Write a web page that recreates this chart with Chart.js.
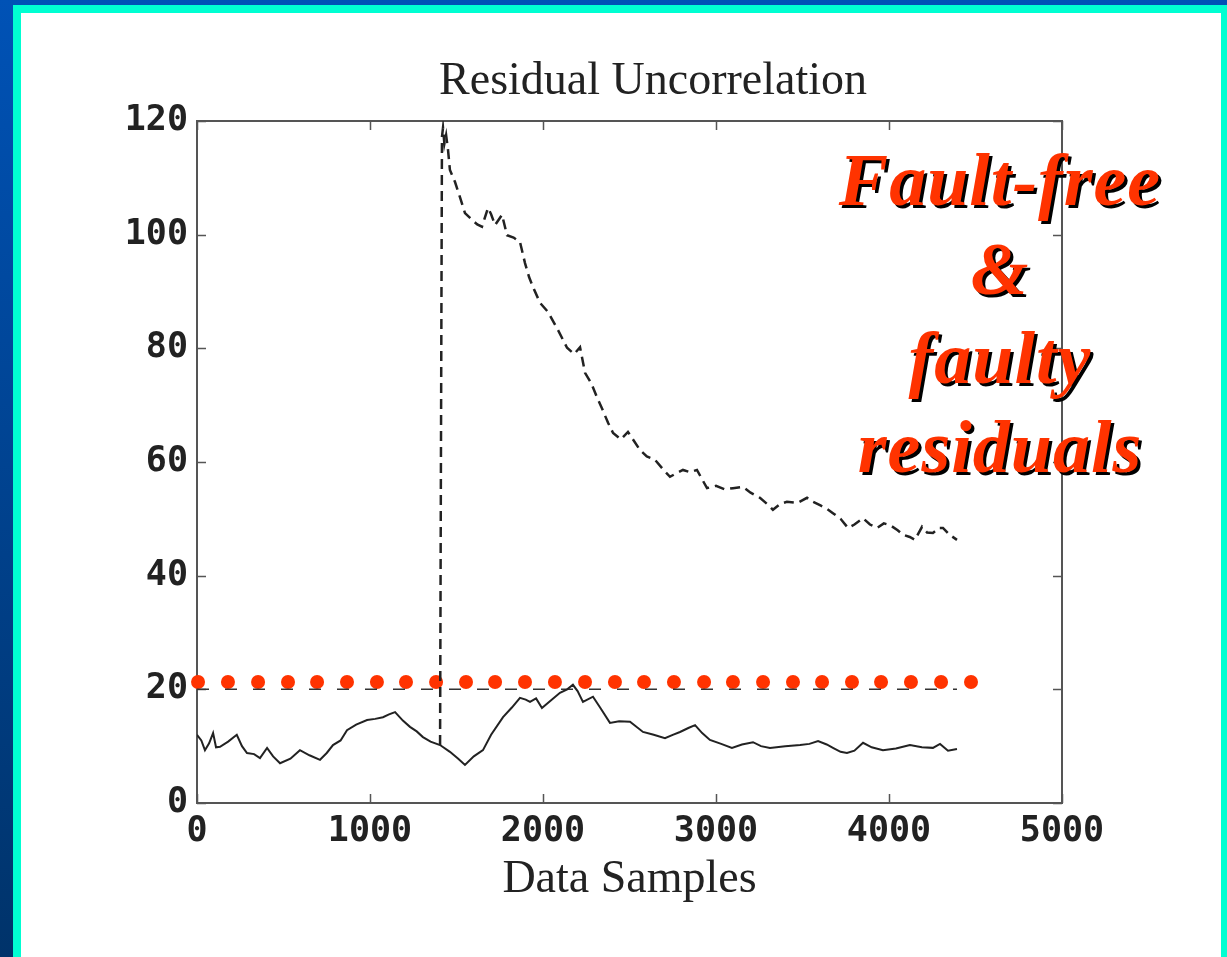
<!DOCTYPE html>
<html lang="en">
<head>
    <meta charset="UTF-8">
    <title>Residual Uncorrelation</title>
    <script src="https://cdn.jsdelivr.net/npm/chart.js"></script>
    <style>
        body {
            margin: 0;
            width: 1227px;
            height: 957px;
            overflow: hidden;
            background: linear-gradient(to bottom, #0052b6, #00336a);  /* slide background */
        }

        #frame {
            position: absolute;
            left: 13px;
            top: 5px;
            width: 1214px;
            height: 952px;
            box-sizing: border-box;
            border-left: 8px solid #00ffd2;
            border-top: 8px solid #00ffd2;
            border-right: 6px solid #00ffd2;
            background: #fff;
            overflow: hidden;
        }

        #myChart {
            position: absolute;
            left: 0;
            top: 0;
        }

        #title {
            position: absolute;
            left: 332px;
            width: 600px;
            top: 43px;
            text-align: center;
            white-space: nowrap;
            font-family: 'Liberation Serif', serif;
            font-size: 46px;
            line-height: 1;
            color: #222;
        }

        #note {
            position: absolute;
            left: 779px;
            top: 123px;
            width: 400px;
            text-align: center;
            font-family: 'Liberation Serif', serif;
            font-weight: bold;
            font-style: italic;
            font-size: 74px;
            line-height: 89px;
            letter-spacing: 1px;
            color: #ff3300;
            text-shadow: 3px 3px 0 #000;
        }
    </style>
</head>
<body>
    <div id="frame">
        <canvas id="myChart" width="1200" height="944"></canvas>
        <div id="title">Residual Uncorrelation</div>
        <div id="note">Fault-free<br>&amp;<br>faulty<br>residuals</div>
    </div>

    <script>
        // fault-free residual (solid)
        const freeX = [0, 25, 46, 70, 93, 110, 133, 180, 230, 260, 289, 330, 364, 405, 440, 480, 540, 595, 650, 711,
            750, 786, 830, 867, 920, 983, 1030, 1075, 1110, 1145, 1190, 1231, 1270, 1306, 1350, 1405, 1462, 1510, 1549, 1600,
            1653, 1700, 1769, 1820, 1867, 1900, 1925, 1960, 1994, 2040, 2098, 2140, 2173, 2200, 2231, 2289, 2330, 2387, 2440, 2503,
            2578, 2640, 2705, 2750, 2792, 2840, 2879, 2920, 2965, 3030, 3092, 3150, 3214, 3260, 3312, 3400, 3486, 3540, 3590, 3640,
            3676, 3720, 3757, 3800, 3850, 3900, 3965, 4040, 4121, 4190, 4254, 4295, 4341, 4393];
        const freeY = [12.0, 11.0, 9.3, 10.5, 12.3, 9.8, 9.9, 10.8, 12.0, 10.0, 8.8, 8.6, 7.9, 9.7, 8.2, 7.0, 7.8, 9.3, 8.4, 7.6,
            8.8, 10.2, 11.0, 12.8, 13.8, 14.6, 14.8, 15.1, 15.6, 16.0, 14.5, 13.4, 12.6, 11.6, 10.8, 10.2, 9.0, 7.8, 6.7, 8.2,
            9.3, 12.0, 15.1, 16.8, 18.5, 18.2, 17.8, 18.4, 16.7, 17.9, 19.4, 20.0, 20.8, 19.7, 17.8, 18.7, 16.8, 14.1, 14.4, 14.3,
            12.5, 12.0, 11.4, 12.0, 12.5, 13.2, 13.7, 12.3, 11.1, 10.4, 9.7, 10.3, 10.7, 10.0, 9.7, 10.0, 10.2, 10.4, 10.9, 10.3,
            9.7, 9.0, 8.8, 9.2, 10.6, 9.8, 9.3, 9.6, 10.2, 9.8, 9.7, 10.4, 9.2, 9.5];

        // faulty residual (dashed)
        const faultX = [1405, 1410, 1416, 1422, 1430, 1440, 1451, 1462, 1491, 1520, 1549, 1590, 1620, 1647, 1682, 1700, 1723, 1763, 1792, 1830,
            1867, 1896, 1920, 1942, 1983, 2029, 2087, 2139, 2180, 2214, 2243, 2280, 2312, 2340, 2376, 2405, 2450, 2491, 2561, 2600,
            2647, 2700, 2734, 2770, 2809, 2850, 2890, 2948, 3000, 3050, 3098, 3156, 3200, 3254, 3300, 3329, 3370, 3410, 3470, 3526,
            3560, 3601, 3640, 3676, 3720, 3763, 3800, 3850, 3890, 3931, 3970, 4006, 4050, 4081, 4120, 4150, 4191, 4220, 4254, 4290,
            4312, 4350, 4393];
        const faultY = [10.2, 60, 117.2, 118.8, 116.0, 117.5, 114.9, 111.4, 109.3, 106.6, 103.8, 102.6, 101.8, 101.4, 104.7, 103.6, 101.7, 103.5, 99.9, 99.5,
            98.7, 95.0, 92.5, 90.8, 88.0, 86.4, 83.2, 80.1, 79.0, 80.2, 75.7, 73.8, 71.4, 69.5, 66.9, 65.1, 64.0, 65.3, 62.1, 61.0,
            60.4, 58.5, 57.4, 58.0, 58.6, 58.2, 58.6, 55.4, 55.8, 55.2, 55.4, 55.6, 54.6, 53.7, 52.5, 51.6, 52.6, 53.0, 52.8, 53.7,
            53.0, 52.4, 51.8, 51.0, 50.0, 48.4, 49.0, 50.1, 49.0, 48.4, 49.2, 48.9, 48.0, 47.2, 46.8, 46.3, 48.6, 47.6, 47.5, 48.4,
            48.4, 47.2, 46.3];

        // threshold (dashed, at 20) and red dotted limit
        const thresholdX = [0, 4393];
        const thresholdY = [20, 20];
        const limitX = [6, 179, 353, 526, 694, 867, 1040, 1208, 1382, 1555, 1723, 1896, 2069, 2243, 2416, 2584, 2757, 2931,
            3098, 3272, 3445, 3613, 3786, 3954, 4127, 4301, 4474];
        const limitY = 21.3;

        const xTicks = [0, 1000, 2000, 3000, 4000, 5000];
        const yTicks = [0, 20, 40, 60, 80, 100, 120];

        function pts(xs, ys) {
            return xs.map((x, i) => ({x: x, y: Array.isArray(ys) ? ys[i] : ys}));
        }

        // box around the axes with inward ticks on all four sides
        const frameTicks = {
            id: 'frameTicks',
            beforeDatasetsDraw(chart) {
                const {ctx, chartArea: a, scales: {x, y}} = chart;
                ctx.save();
                ctx.strokeStyle = '#555';
                ctx.lineWidth = 2;
                ctx.strokeRect(a.left, a.top, a.width, a.height);
                ctx.beginPath();
                xTicks.forEach(v => {
                    const px = Math.round(x.getPixelForValue(v)) + 0.5;
                    ctx.moveTo(px, a.bottom); ctx.lineTo(px, a.bottom - 9);
                    ctx.moveTo(px, a.top); ctx.lineTo(px, a.top + 9);
                });
                yTicks.forEach(v => {
                    const py = Math.round(y.getPixelForValue(v)) + 0.5;
                    ctx.moveTo(a.left, py); ctx.lineTo(a.left + 9, py);
                    ctx.moveTo(a.right, py); ctx.lineTo(a.right - 9, py);
                });
                ctx.lineWidth = 1.5;
                ctx.stroke();
                ctx.restore();
            }
        };

        const tickFont = {family: "'DejaVu Sans Mono', monospace", size: 35, weight: 'bold'};

        let ctx = document.getElementById('myChart').getContext('2d');
        let chart = new Chart(ctx, {
            type: 'line',
            data: {
                datasets: [{
                    label: 'Fault-free',
                    data: pts(freeX, freeY),
                    borderColor: '#222',
                    borderWidth: 2,
                    pointRadius: 0
                }, {
                    label: 'Faulty',
                    data: pts(faultX, faultY),
                    borderColor: '#222',
                    borderWidth: 2.5,
                    borderDash: [10, 6],
                    pointRadius: 0
                }, {
                    label: 'Threshold',
                    data: pts(thresholdX, thresholdY),
                    borderColor: '#333',
                    borderWidth: 1.5,
                    borderDash: [12, 16],
                    pointRadius: 0
                }, {
                    label: 'Limit',
                    data: pts(limitX, limitY),
                    showLine: false,
                    pointRadius: 7,
                    pointBorderWidth: 0,
                    pointBackgroundColor: '#ff3300',
                    pointBorderColor: '#ff3300',
                    clip: false
                }]
            },
            options: {
                responsive: false,
                animation: false,
                layout: {
                    padding: {top: 108, right: 159, left: 0, bottom: 0}
                },
                plugins: {
                    legend: {display: false},
                    tooltip: {enabled: false}
                },
                scales: {
                    x: {
                        type: 'linear',
                        min: 0,
                        max: 5000,
                        afterFit: (s) => { s.height = 154; },
                        afterBuildTicks: (s) => { s.ticks = xTicks.map(v => ({value: v})); },
                        grid: {display: false, drawTicks: false},
                        border: {display: false},
                        ticks: {
                            color: '#222',
                            font: tickFont,
                            padding: 8,
                            maxRotation: 0,
                            autoSkip: false,
                            callback: (v) => String(v)  // plain numbers, no thousands comma
                        },
                        title: {
                            display: true,
                            text: 'Data Samples',
                            color: '#222',
                            font: {family: "'Liberation Serif', serif", size: 46},
                            padding: {top: 0, bottom: 49}
                        }
                    },
                    y: {
                        min: 0,
                        max: 120,
                        afterFit: (s) => { s.width = 176; },
                        afterBuildTicks: (s) => { s.ticks = yTicks.map(v => ({value: v})); },
                        grid: {display: false, drawTicks: false},
                        border: {display: false},
                        ticks: {
                            color: '#222',
                            font: tickFont,
                            padding: 9,
                            callback: (v) => String(v)
                        }
                    }
                }
            },
            plugins: [frameTicks]
        });
    </script>
</body>
</html>
